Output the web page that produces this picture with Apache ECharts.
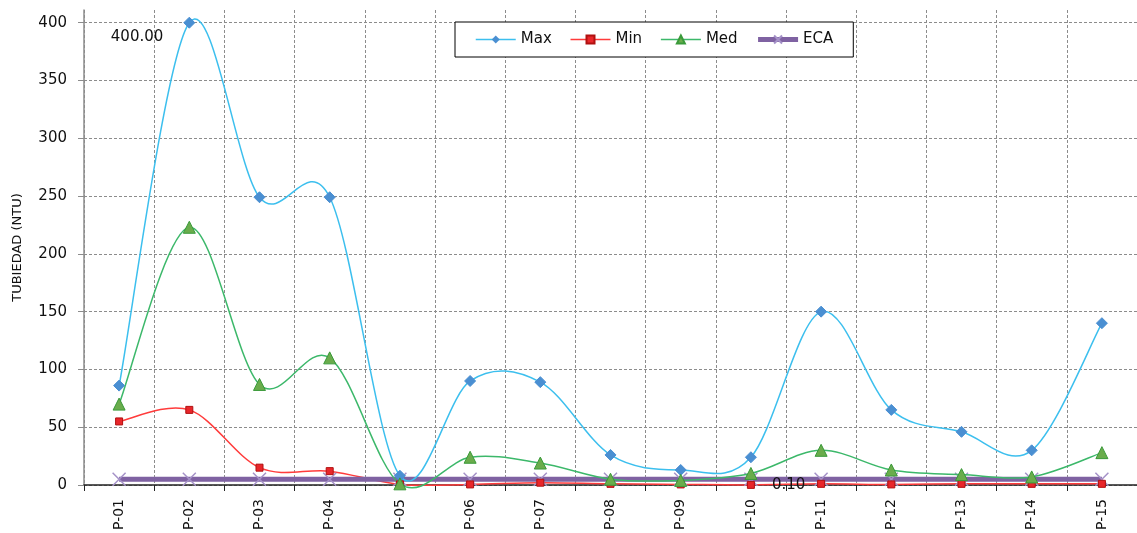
<!DOCTYPE html>
<html>
<head>
<meta charset="utf-8">
<script src="https://cdn.jsdelivr.net/npm/echarts@6/dist/echarts.min.js"></script>
<style>
  html, body { margin: 0; padding: 0; background: #ffffff; }
  #chart { width: 1137px; height: 533px; }
</style>
</head>
<body>
<div id="chart"></div>
<script>
// Turbidity per sampling point (NTU)
const points = ['P-01','P-02','P-03','P-04','P-05','P-06','P-07','P-08','P-09','P-10','P-11','P-12','P-13','P-14','P-15'];
const maxValues = [86, 400, 249, 249, 8, 90, 89, 26, 13, 24, 150, 65, 46, 30, 140];
const minValues = [55, 65, 15, 12, 0.5, 0.5, 2, 1, 0.5, 0.10, 1, 0.5, 1, 1, 1];
const medValues = [70, 223, 87, 110, 1, 24, 19, 5, 4, 10, 30, 13, 9, 7, 28];
const ecaValues = [5, 5, 5, 5, 5, 5, 5, 5, 5, 5, 5, 5, 5, 5, 5];
// Plot area runs a little above the last labelled tick (400)
const yTicks = { min: 0, max: 411, interval: 50 };

const FONT = '"DejaVu Sans", Verdana, sans-serif';

const COLORS = {
  max:  { line: '#3cbfee', mark: '#4a8fd2' },
  min:  { line: '#ff3b3b', mark: '#e8262a' },
  med:  { line: '#3cb86a', mark: '#6aac4c' },
  eca:  { line: '#7f62a2', mark: '#a592c8' }
};

// Cardinal (Catmull-Rom) curve through the values, positioned with the chart's own axes
function curveSeries(name, values, color, z) {
  return {
    name: name,
    type: 'custom',
    coordinateSystem: 'cartesian2d',
    data: [[0, values[0]]],
    clip: false,
    silent: true,
    z: z,
    renderItem: function (params, api) {
      const p = values.map((v, i) => api.coord([i, v]));
      let d = 'M' + p[0][0] + ',' + p[0][1];
      for (let i = 0; i < p.length - 1; i++) {
        const p0 = p[i - 1] || p[i];
        const p1 = p[i];
        const p2 = p[i + 1];
        const p3 = p[i + 2] || p[i + 1];
        const c1x = p1[0] + (p2[0] - p0[0]) / 6, c1y = p1[1] + (p2[1] - p0[1]) / 6;
        const c2x = p2[0] - (p3[0] - p1[0]) / 6, c2y = p2[1] - (p3[1] - p1[1]) / 6;
        d += 'C' + c1x + ',' + c1y + ' ' + c2x + ',' + c2y + ' ' + p2[0] + ',' + p2[1];
      }
      return {
        type: 'path',
        shape: { pathData: d },
        style: { fill: 'none', stroke: color, lineWidth: 1.5 }
      };
    }
  };
}

// Value label shown only on the peak of Max and the lowest Min
const maxData = maxValues.map((v, i) => i === 1 ? {
  value: v,
  label: { show: true, position: 'left', distance: 20, offset: [0, 14],
           formatter: p => p.value.toFixed(2), fontFamily: FONT, fontSize: 15, color: '#111' }
} : v);
const minData = minValues.map((v, i) => i === 9 ? {
  value: v,
  label: { show: true, position: 'right', distance: 17,
           formatter: p => p.value.toFixed(2), fontFamily: FONT, fontSize: 15, color: '#111' }
} : v);

const chart = echarts.init(document.getElementById('chart'), null, { renderer: 'canvas' });
chart.setOption({
  backgroundColor: '#ffffff',
  animation: false,
  grid: { left: 84, right: -9.6, top: 10, bottom: 45, containLabel: false },
  legend: {
    left: 455, top: 22,
    padding: [9, 20, 9, 20],
    itemWidth: 40, itemHeight: 10, itemGap: 18,
    backgroundColor: '#ffffff',
    borderColor: '#000000', borderWidth: 1,
    textStyle: { fontFamily: FONT, fontSize: 15, color: '#111', lineHeight: 17 },
    data: [
      { name: 'Max', lineStyle: { color: COLORS.max.line, width: 1.5, opacity: 1 } },
      { name: 'Min', lineStyle: { color: COLORS.min.line, width: 1.5, opacity: 1 } },
      { name: 'Med', lineStyle: { color: COLORS.med.line, width: 1.5, opacity: 1 } },
      { name: 'ECA', lineStyle: { color: COLORS.eca.line, width: 5, opacity: 1 } }
    ],
    z: 20
  },
  xAxis: {
    type: 'category',
    data: points,
    boundaryGap: true,
    axisLine: { show: true, lineStyle: { color: '#222', width: 1.5 } },
    axisTick: { show: true, length: 6, lineStyle: { color: '#222' } },
    axisLabel: { rotate: 90, margin: 14, fontFamily: FONT, fontSize: 14, color: '#111' },
    splitLine: { show: true, lineStyle: { color: '#8c8c8c', type: [3, 2], width: 1 } }
  },
  yAxis: {
    type: 'value',
    min: yTicks.min, max: yTicks.max, interval: yTicks.interval,
    name: 'TUBIEDAD (NTU)',
    nameLocation: 'middle',
    nameGap: 60,
    nameTextStyle: { fontFamily: FONT, fontSize: 13, color: '#111', padding: [0, 0, 0, 0] },
    axisLine: { show: true, lineStyle: { color: '#8c8c8c', width: 1.5 } },
    axisTick: { show: true, length: 6, lineStyle: { color: '#8c8c8c' } },
    axisLabel: { margin: 17, fontFamily: FONT, fontSize: 15, color: '#111', showMaxLabel: false },
    splitLine: { show: true, showMaxLine: false,
                 lineStyle: { color: '#8c8c8c', type: [3, 2], width: 1 } }
  },
  series: [
    curveSeries('Max curve', maxValues, COLORS.max.line, 4),
    curveSeries('Min curve', minValues, COLORS.min.line, 2),
    curveSeries('Med curve', medValues, COLORS.med.line, 4),
    {
      name: 'ECA', type: 'line', data: ecaValues,
      symbol: 'path://M0,0L10,10M10,0L0,10', symbolSize: 13,
      lineStyle: { color: COLORS.eca.line, width: 5 },
      itemStyle: { color: 'none', borderColor: COLORS.eca.mark, borderWidth: 1.5 },
      z: 3
    },
    {
      name: 'Max', type: 'line', data: maxData,
      symbol: 'diamond', symbolSize: 11,
      lineStyle: { opacity: 0 },
      itemStyle: { color: COLORS.max.mark, borderColor: COLORS.max.mark },
      z: 6
    },
    {
      name: 'Min', type: 'line', data: minData,
      symbol: 'rect', symbolSize: 7,
      lineStyle: { opacity: 0 },
      itemStyle: { color: COLORS.min.mark, borderColor: '#b01010', borderWidth: 1 },
      z: 5
    },
    {
      name: 'Med', type: 'line', data: medValues,
      symbol: 'triangle', symbolSize: 12,
      lineStyle: { opacity: 0 },
      itemStyle: { color: COLORS.med.mark, borderColor: '#3a9a3a', borderWidth: 1 },
      z: 6
    }
  ]
});
</script>
</body>
</html>
